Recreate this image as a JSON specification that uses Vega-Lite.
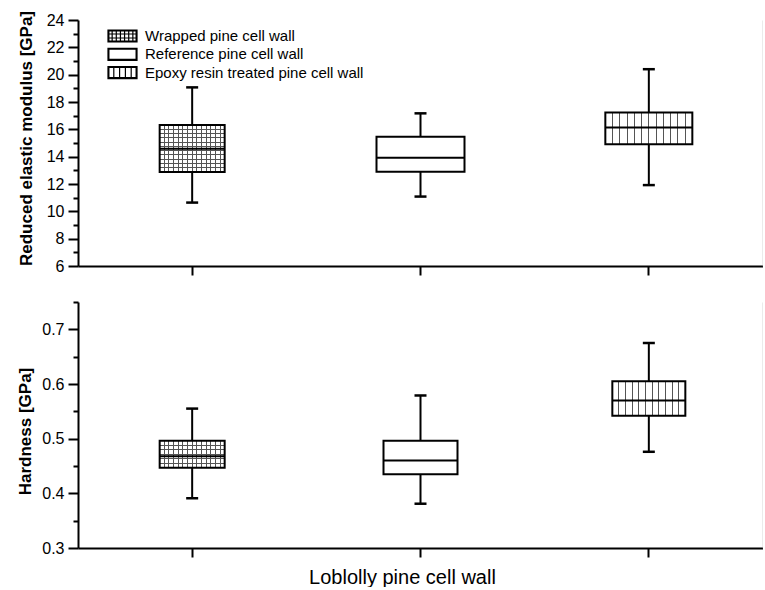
{
  "$schema": "https://vega.github.io/schema/vega-lite/v6.json",
  "background": "white",
  "padding": {"left": 16, "top": 10, "right": 0, "bottom": 0},
  "config": {
    "font": "Liberation Sans",
    "view": {"stroke": null},
    "axis": {"grid": false, "domainColor": "black", "tickColor": "black", "labelColor": "black", "titleColor": "black", "domainWidth": 2, "tickWidth": 2, "labelFlush": false, "labelOverlap": false, "labelBound": false}
  },
  "data": {"values": [
    {"group": "Wrapped pine cell wall", "E_low": 10.64, "E_q1": 12.87, "E_med": 14.58, "E_q3": 16.32, "E_high": 19.07, "H_low": 0.391, "H_q1": 0.447, "H_med": 0.468, "H_q3": 0.496, "H_high": 0.555},
    {"group": "Reference pine cell wall", "E_low": 11.08, "E_q1": 12.9, "E_med": 13.92, "E_q3": 15.46, "E_high": 17.17, "H_low": 0.381, "H_q1": 0.435, "H_med": 0.46, "H_q3": 0.496, "H_high": 0.579},
    {"group": "Epoxy resin treated pine cell wall", "E_low": 11.92, "E_q1": 14.9, "E_med": 16.14, "E_q3": 17.24, "E_high": 20.4, "H_low": 0.476, "H_q1": 0.542, "H_med": 0.57, "H_q3": 0.605, "H_high": 0.675}
  ]},
  "spacing": 18,
  "resolve": {"scale": {"fill": "independent"}},
  "vconcat": [
    {
      "width": 685,
      "height": 246,
      "encoding": {
        "x": {"field": "group", "type": "nominal", "scale": {"domain": ["Wrapped pine cell wall", "Reference pine cell wall", "Epoxy resin treated pine cell wall"], "paddingInner": 0, "paddingOuter": 0},
          "axis": {"labels": false, "title": null, "tickSize": 9, "tickWidth": 2, "domainWidth": 2}}
      },
      "resolve": {"axis": {"y": "independent"}},
      "layer": [
        {
          "mark": {"type": "rule", "color": "black", "strokeWidth": 2},
          "encoding": {
            "y": {"field": "E_low", "type": "quantitative", "scale": {"domain": [6, 24], "nice": false, "zero": false},
              "axis": {"orient": "left", "values": [6,7,8,9,10,11,12,13,14,15,16,17,18,19,20,21,22,23,24],
                "labelExpr": "datum.value % 2 === 0 ? datum.label : ''",
                "tickSize": {"condition": {"test": "datum.value % 2 === 0", "value": 10}, "value": 5},
                "labelFontSize": 16, "labelPadding": 4,
                "title": "Reduced elastic modulus [GPa]", "titleFontSize": 17, "titleFontWeight": "bold", "titlePadding": 11, "titleY": 118}},
            "y2": {"field": "E_high"}
          }
        },
        {
          "mark": {"type": "bar", "stroke": null, "width": {"expr": "datum.group === 'Wrapped pine cell wall' ? 65 : datum.group === 'Reference pine cell wall' ? 88 : 87"}},
          "encoding": {
            "y": {"field": "E_q1", "type": "quantitative", "axis": null},
            "y2": {"field": "E_q3"},
            "fill": {"field": "group", "type": "nominal", "scale": {"domain": ["Wrapped pine cell wall", "Reference pine cell wall", "Epoxy resin treated pine cell wall"], "range": ["white", "white", "white"]},
              "legend": {"orient": "none", "legendX": 37, "legendY": 8.5, "title": null, "padding": 0, "symbolSize": 144, "rowPadding": 1.3,
                "symbolType": "M-2.417,-1H2.417V1H-2.417ZM-2.27,-0.85H2.27V0.85H-2.27Z",
                "symbolStrokeColor": "black", "symbolStrokeWidth": 1.2, "symbolFillColor": "white",
                "labelFontSize": 15, "labelColor": "black", "labelLimit": 0, "labelOffset": 15,
                "encode": {"symbols": {"update": {
                  "shape": {"signal": "datum.value === 'Wrapped pine cell wall' ? 'M-2.417,-1H2.417V1H-2.417ZM-2.27,-0.85H2.27V0.85H-2.27ZM-1.726,-1V1M-1.036,-1V1M-0.345,-1V1M0.345,-1V1M1.036,-1V1M1.726,-1V1M-2.417,-0.333H2.417M-2.417,0.333H2.417' : datum.value === 'Reference pine cell wall' ? 'M-2.417,-1H2.417V1H-2.417ZM-2.27,-0.85H2.27V0.85H-2.27Z' : 'M-2.417,-1H2.417V1H-2.417ZM-2.27,-0.85H2.27V0.85H-2.27ZM-1.45,-1V1M-0.483,-1V1M0.483,-1V1M1.45,-1V1'"}
                }}}}}
          }
        },
        {
          "transform": [{"filter": "datum.group === 'Wrapped pine cell wall'"}],
          "mark": {"type": "bar", "stroke": null, "width": 65, "fill": {"gradient": "linear", "x1": 0, "y1": 0, "x2": 1, "y2": 0, "stops": [
            {"offset": 0, "color": "white"},
            {"offset": 0.0634, "color": "white"}, {"offset": 0.0634, "color": "#555"}, {"offset": 0.0794, "color": "#555"}, {"offset": 0.0794, "color": "white"},
            {"offset": 0.1349, "color": "white"}, {"offset": 0.1349, "color": "#555"}, {"offset": 0.1509, "color": "#555"}, {"offset": 0.1509, "color": "white"},
            {"offset": 0.2063, "color": "white"}, {"offset": 0.2063, "color": "#555"}, {"offset": 0.2223, "color": "#555"}, {"offset": 0.2223, "color": "white"},
            {"offset": 0.2777, "color": "white"}, {"offset": 0.2777, "color": "#555"}, {"offset": 0.2937, "color": "#555"}, {"offset": 0.2937, "color": "white"},
            {"offset": 0.3491, "color": "white"}, {"offset": 0.3491, "color": "#555"}, {"offset": 0.3651, "color": "#555"}, {"offset": 0.3651, "color": "white"},
            {"offset": 0.4206, "color": "white"}, {"offset": 0.4206, "color": "#555"}, {"offset": 0.4366, "color": "#555"}, {"offset": 0.4366, "color": "white"},
            {"offset": 0.492, "color": "white"}, {"offset": 0.492, "color": "#555"}, {"offset": 0.508, "color": "#555"}, {"offset": 0.508, "color": "white"},
            {"offset": 0.5634, "color": "white"}, {"offset": 0.5634, "color": "#555"}, {"offset": 0.5794, "color": "#555"}, {"offset": 0.5794, "color": "white"},
            {"offset": 0.6349, "color": "white"}, {"offset": 0.6349, "color": "#555"}, {"offset": 0.6509, "color": "#555"}, {"offset": 0.6509, "color": "white"},
            {"offset": 0.7063, "color": "white"}, {"offset": 0.7063, "color": "#555"}, {"offset": 0.7223, "color": "#555"}, {"offset": 0.7223, "color": "white"},
            {"offset": 0.7777, "color": "white"}, {"offset": 0.7777, "color": "#555"}, {"offset": 0.7937, "color": "#555"}, {"offset": 0.7937, "color": "white"},
            {"offset": 0.8491, "color": "white"}, {"offset": 0.8491, "color": "#555"}, {"offset": 0.8651, "color": "#555"}, {"offset": 0.8651, "color": "white"},
            {"offset": 0.9206, "color": "white"}, {"offset": 0.9206, "color": "#555"}, {"offset": 0.9366, "color": "#555"}, {"offset": 0.9366, "color": "white"},
            {"offset": 1, "color": "white"}]}},
          "encoding": {
            "y": {"field": "E_q1", "type": "quantitative", "axis": null},
            "y2": {"field": "E_q3"}
          }
        },
        {
          "transform": [{"filter": "datum.group === 'Wrapped pine cell wall'"}],
          "mark": {"type": "bar", "stroke": null, "width": 65, "fill": {"gradient": "linear", "x1": 0, "y1": 0, "x2": 0, "y2": 1, "stops": [
            {"offset": 0, "color": "rgba(255,255,255,0)"},
            {"offset": 0.0799, "color": "rgba(255,255,255,0)"}, {"offset": 0.0799, "color": "#555"}, {"offset": 0.1019, "color": "#555"}, {"offset": 0.1019, "color": "rgba(255,255,255,0)"},
            {"offset": 0.1708, "color": "rgba(255,255,255,0)"}, {"offset": 0.1708, "color": "#555"}, {"offset": 0.1928, "color": "#555"}, {"offset": 0.1928, "color": "rgba(255,255,255,0)"},
            {"offset": 0.2617, "color": "rgba(255,255,255,0)"}, {"offset": 0.2617, "color": "#555"}, {"offset": 0.2837, "color": "#555"}, {"offset": 0.2837, "color": "rgba(255,255,255,0)"},
            {"offset": 0.3526, "color": "rgba(255,255,255,0)"}, {"offset": 0.3526, "color": "#555"}, {"offset": 0.3746, "color": "#555"}, {"offset": 0.3746, "color": "rgba(255,255,255,0)"},
            {"offset": 0.4435, "color": "rgba(255,255,255,0)"}, {"offset": 0.4435, "color": "#555"}, {"offset": 0.4655, "color": "#555"}, {"offset": 0.4655, "color": "rgba(255,255,255,0)"},
            {"offset": 0.5345, "color": "rgba(255,255,255,0)"}, {"offset": 0.5345, "color": "#555"}, {"offset": 0.5565, "color": "#555"}, {"offset": 0.5565, "color": "rgba(255,255,255,0)"},
            {"offset": 0.6254, "color": "rgba(255,255,255,0)"}, {"offset": 0.6254, "color": "#555"}, {"offset": 0.6474, "color": "#555"}, {"offset": 0.6474, "color": "rgba(255,255,255,0)"},
            {"offset": 0.7163, "color": "rgba(255,255,255,0)"}, {"offset": 0.7163, "color": "#555"}, {"offset": 0.7383, "color": "#555"}, {"offset": 0.7383, "color": "rgba(255,255,255,0)"},
            {"offset": 0.8072, "color": "rgba(255,255,255,0)"}, {"offset": 0.8072, "color": "#555"}, {"offset": 0.8292, "color": "#555"}, {"offset": 0.8292, "color": "rgba(255,255,255,0)"},
            {"offset": 0.8981, "color": "rgba(255,255,255,0)"}, {"offset": 0.8981, "color": "#555"}, {"offset": 0.9201, "color": "#555"}, {"offset": 0.9201, "color": "rgba(255,255,255,0)"},
            {"offset": 1, "color": "rgba(255,255,255,0)"}]}},
          "encoding": {
            "y": {"field": "E_q1", "type": "quantitative", "axis": null},
            "y2": {"field": "E_q3"}
          }
        },
        {
          "transform": [{"filter": "datum.group === 'Epoxy resin treated pine cell wall'"}],
          "mark": {"type": "bar", "stroke": null, "width": 87, "fill": {"gradient": "linear", "x1": 0, "y1": 0, "x2": 1, "y2": 0, "stops": [
            {"offset": 0, "color": "white"},
            {"offset": 0.0773, "color": "white"}, {"offset": 0.0773, "color": "#555"}, {"offset": 0.0893, "color": "#555"}, {"offset": 0.0893, "color": "white"},
            {"offset": 0.1607, "color": "white"}, {"offset": 0.1607, "color": "#555"}, {"offset": 0.1727, "color": "#555"}, {"offset": 0.1727, "color": "white"},
            {"offset": 0.244, "color": "white"}, {"offset": 0.244, "color": "#555"}, {"offset": 0.256, "color": "#555"}, {"offset": 0.256, "color": "white"},
            {"offset": 0.3273, "color": "white"}, {"offset": 0.3273, "color": "#555"}, {"offset": 0.3393, "color": "#555"}, {"offset": 0.3393, "color": "white"},
            {"offset": 0.4107, "color": "white"}, {"offset": 0.4107, "color": "#555"}, {"offset": 0.4227, "color": "#555"}, {"offset": 0.4227, "color": "white"},
            {"offset": 0.494, "color": "white"}, {"offset": 0.494, "color": "#555"}, {"offset": 0.506, "color": "#555"}, {"offset": 0.506, "color": "white"},
            {"offset": 0.5773, "color": "white"}, {"offset": 0.5773, "color": "#555"}, {"offset": 0.5893, "color": "#555"}, {"offset": 0.5893, "color": "white"},
            {"offset": 0.6607, "color": "white"}, {"offset": 0.6607, "color": "#555"}, {"offset": 0.6727, "color": "#555"}, {"offset": 0.6727, "color": "white"},
            {"offset": 0.744, "color": "white"}, {"offset": 0.744, "color": "#555"}, {"offset": 0.756, "color": "#555"}, {"offset": 0.756, "color": "white"},
            {"offset": 0.8273, "color": "white"}, {"offset": 0.8273, "color": "#555"}, {"offset": 0.8393, "color": "#555"}, {"offset": 0.8393, "color": "white"},
            {"offset": 0.9107, "color": "white"}, {"offset": 0.9107, "color": "#555"}, {"offset": 0.9227, "color": "#555"}, {"offset": 0.9227, "color": "white"},
            {"offset": 1, "color": "white"}]}},
          "encoding": {
            "y": {"field": "E_q1", "type": "quantitative", "axis": null},
            "y2": {"field": "E_q3"}
          }
        },
        {
          "mark": {"type": "bar", "fill": "transparent", "stroke": "black", "strokeWidth": 2, "width": {"expr": "datum.group === 'Wrapped pine cell wall' ? 65 : datum.group === 'Reference pine cell wall' ? 88 : 87"}},
          "encoding": {
            "y": {"field": "E_q1", "type": "quantitative", "axis": {"orient": "right", "labels": false, "ticks": false, "title": null, "domainColor": "#b0b0b0", "domainWidth": 1.5}},
            "y2": {"field": "E_q3"}
          }
        },
        {
          "mark": {"type": "tick", "color": "black", "opacity": 1, "thickness": 2, "size": {"expr": "datum.group === 'Wrapped pine cell wall' ? 65 : datum.group === 'Reference pine cell wall' ? 88 : 87"}},
          "encoding": {
            "y": {"field": "E_med", "type": "quantitative", "axis": null}
          }
        },
        {
          "mark": {"type": "tick", "color": "black", "opacity": 1, "thickness": 2.5, "size": 12},
          "encoding": {"y": {"field": "E_low", "type": "quantitative", "axis": null}}
        },
        {
          "mark": {"type": "tick", "color": "black", "opacity": 1, "thickness": 2.5, "size": 12},
          "encoding": {"y": {"field": "E_high", "type": "quantitative", "axis": null}}
        }
      ]
    },
    {
      "width": 685,
      "height": 246,
      "encoding": {
        "x": {"field": "group", "type": "nominal", "scale": {"domain": ["Wrapped pine cell wall", "Reference pine cell wall", "Epoxy resin treated pine cell wall"], "paddingInner": 0, "paddingOuter": 0},
          "axis": {"labels": false, "tickSize": 9, "tickWidth": 2, "domainWidth": 2, "title": "Loblolly pine cell wall", "titleFontSize": 20, "titleFontWeight": "normal", "titlePadding": 9, "titleX": 324}}
      },
      "resolve": {"axis": {"y": "independent"}},
      "layer": [
        {
          "mark": {"type": "rule", "color": "black", "strokeWidth": 2},
          "encoding": {
            "y": {"field": "H_low", "type": "quantitative", "scale": {"domain": [0.3, 0.75], "nice": false, "zero": false},
              "axis": {"orient": "left", "values": [0.3,0.35,0.4,0.45,0.5,0.55,0.6,0.65,0.7,0.75],
                "labelExpr": "round(datum.value*100) % 10 === 0 ? format(datum.value, '.1f') : ''",
                "tickSize": {"condition": {"test": "round(datum.value*100) % 10 === 0", "value": 10}, "value": 5},
                "labelFontSize": 16, "labelPadding": 4,
                "title": "Hardness [GPa]", "titleFontSize": 17, "titleFontWeight": "bold", "titlePadding": 7, "titleY": 129}},
            "y2": {"field": "H_high"}
          }
        },
        {
          "mark": {"type": "bar", "stroke": null, "fill": "white", "width": {"expr": "datum.group === 'Wrapped pine cell wall' ? 65 : datum.group === 'Reference pine cell wall' ? 74 : 73"}},
          "encoding": {
            "y": {"field": "H_q1", "type": "quantitative", "axis": null},
            "y2": {"field": "H_q3"}
          }
        },
        {
          "transform": [{"filter": "datum.group === 'Wrapped pine cell wall'"}],
          "mark": {"type": "bar", "stroke": null, "width": 65, "fill": {"gradient": "linear", "x1": 0, "y1": 0, "x2": 1, "y2": 0, "stops": [
            {"offset": 0, "color": "white"},
            {"offset": 0.0634, "color": "white"}, {"offset": 0.0634, "color": "#555"}, {"offset": 0.0794, "color": "#555"}, {"offset": 0.0794, "color": "white"},
            {"offset": 0.1349, "color": "white"}, {"offset": 0.1349, "color": "#555"}, {"offset": 0.1509, "color": "#555"}, {"offset": 0.1509, "color": "white"},
            {"offset": 0.2063, "color": "white"}, {"offset": 0.2063, "color": "#555"}, {"offset": 0.2223, "color": "#555"}, {"offset": 0.2223, "color": "white"},
            {"offset": 0.2777, "color": "white"}, {"offset": 0.2777, "color": "#555"}, {"offset": 0.2937, "color": "#555"}, {"offset": 0.2937, "color": "white"},
            {"offset": 0.3491, "color": "white"}, {"offset": 0.3491, "color": "#555"}, {"offset": 0.3651, "color": "#555"}, {"offset": 0.3651, "color": "white"},
            {"offset": 0.4206, "color": "white"}, {"offset": 0.4206, "color": "#555"}, {"offset": 0.4366, "color": "#555"}, {"offset": 0.4366, "color": "white"},
            {"offset": 0.492, "color": "white"}, {"offset": 0.492, "color": "#555"}, {"offset": 0.508, "color": "#555"}, {"offset": 0.508, "color": "white"},
            {"offset": 0.5634, "color": "white"}, {"offset": 0.5634, "color": "#555"}, {"offset": 0.5794, "color": "#555"}, {"offset": 0.5794, "color": "white"},
            {"offset": 0.6349, "color": "white"}, {"offset": 0.6349, "color": "#555"}, {"offset": 0.6509, "color": "#555"}, {"offset": 0.6509, "color": "white"},
            {"offset": 0.7063, "color": "white"}, {"offset": 0.7063, "color": "#555"}, {"offset": 0.7223, "color": "#555"}, {"offset": 0.7223, "color": "white"},
            {"offset": 0.7777, "color": "white"}, {"offset": 0.7777, "color": "#555"}, {"offset": 0.7937, "color": "#555"}, {"offset": 0.7937, "color": "white"},
            {"offset": 0.8491, "color": "white"}, {"offset": 0.8491, "color": "#555"}, {"offset": 0.8651, "color": "#555"}, {"offset": 0.8651, "color": "white"},
            {"offset": 0.9206, "color": "white"}, {"offset": 0.9206, "color": "#555"}, {"offset": 0.9366, "color": "#555"}, {"offset": 0.9366, "color": "white"},
            {"offset": 1, "color": "white"}]}},
          "encoding": {
            "y": {"field": "H_q1", "type": "quantitative", "axis": null},
            "y2": {"field": "H_q3"}
          }
        },
        {
          "transform": [{"filter": "datum.group === 'Wrapped pine cell wall'"}],
          "mark": {"type": "bar", "stroke": null, "width": 65, "fill": {"gradient": "linear", "x1": 0, "y1": 0, "x2": 0, "y2": 1, "stops": [
            {"offset": 0, "color": "rgba(255,255,255,0)"},
            {"offset": 0.1477, "color": "rgba(255,255,255,0)"}, {"offset": 0.1477, "color": "#555"}, {"offset": 0.1857, "color": "#555"}, {"offset": 0.1857, "color": "rgba(255,255,255,0)"},
            {"offset": 0.3143, "color": "rgba(255,255,255,0)"}, {"offset": 0.3143, "color": "#555"}, {"offset": 0.3523, "color": "#555"}, {"offset": 0.3523, "color": "rgba(255,255,255,0)"},
            {"offset": 0.481, "color": "rgba(255,255,255,0)"}, {"offset": 0.481, "color": "#555"}, {"offset": 0.519, "color": "#555"}, {"offset": 0.519, "color": "rgba(255,255,255,0)"},
            {"offset": 0.6477, "color": "rgba(255,255,255,0)"}, {"offset": 0.6477, "color": "#555"}, {"offset": 0.6857, "color": "#555"}, {"offset": 0.6857, "color": "rgba(255,255,255,0)"},
            {"offset": 0.8143, "color": "rgba(255,255,255,0)"}, {"offset": 0.8143, "color": "#555"}, {"offset": 0.8523, "color": "#555"}, {"offset": 0.8523, "color": "rgba(255,255,255,0)"},
            {"offset": 1, "color": "rgba(255,255,255,0)"}]}},
          "encoding": {
            "y": {"field": "H_q1", "type": "quantitative", "axis": null},
            "y2": {"field": "H_q3"}
          }
        },
        {
          "transform": [{"filter": "datum.group === 'Epoxy resin treated pine cell wall'"}],
          "mark": {"type": "bar", "stroke": null, "width": 73, "fill": {"gradient": "linear", "x1": 0, "y1": 0, "x2": 1, "y2": 0, "stops": [
            {"offset": 0, "color": "white"},
            {"offset": 0.0839, "color": "white"}, {"offset": 0.0839, "color": "#555"}, {"offset": 0.0979, "color": "#555"}, {"offset": 0.0979, "color": "white"},
            {"offset": 0.1748, "color": "white"}, {"offset": 0.1748, "color": "#555"}, {"offset": 0.1888, "color": "#555"}, {"offset": 0.1888, "color": "white"},
            {"offset": 0.2657, "color": "white"}, {"offset": 0.2657, "color": "#555"}, {"offset": 0.2797, "color": "#555"}, {"offset": 0.2797, "color": "white"},
            {"offset": 0.3566, "color": "white"}, {"offset": 0.3566, "color": "#555"}, {"offset": 0.3706, "color": "#555"}, {"offset": 0.3706, "color": "white"},
            {"offset": 0.4475, "color": "white"}, {"offset": 0.4475, "color": "#555"}, {"offset": 0.4615, "color": "#555"}, {"offset": 0.4615, "color": "white"},
            {"offset": 0.5385, "color": "white"}, {"offset": 0.5385, "color": "#555"}, {"offset": 0.5525, "color": "#555"}, {"offset": 0.5525, "color": "white"},
            {"offset": 0.6294, "color": "white"}, {"offset": 0.6294, "color": "#555"}, {"offset": 0.6434, "color": "#555"}, {"offset": 0.6434, "color": "white"},
            {"offset": 0.7203, "color": "white"}, {"offset": 0.7203, "color": "#555"}, {"offset": 0.7343, "color": "#555"}, {"offset": 0.7343, "color": "white"},
            {"offset": 0.8112, "color": "white"}, {"offset": 0.8112, "color": "#555"}, {"offset": 0.8252, "color": "#555"}, {"offset": 0.8252, "color": "white"},
            {"offset": 0.9021, "color": "white"}, {"offset": 0.9021, "color": "#555"}, {"offset": 0.9161, "color": "#555"}, {"offset": 0.9161, "color": "white"},
            {"offset": 1, "color": "white"}]}},
          "encoding": {
            "y": {"field": "H_q1", "type": "quantitative", "axis": null},
            "y2": {"field": "H_q3"}
          }
        },
        {
          "mark": {"type": "bar", "fill": "transparent", "stroke": "black", "strokeWidth": 2, "width": {"expr": "datum.group === 'Wrapped pine cell wall' ? 65 : datum.group === 'Reference pine cell wall' ? 74 : 73"}},
          "encoding": {
            "y": {"field": "H_q1", "type": "quantitative", "axis": {"orient": "right", "labels": false, "ticks": false, "title": null, "domainColor": "#b0b0b0", "domainWidth": 1.5}},
            "y2": {"field": "H_q3"}
          }
        },
        {
          "mark": {"type": "tick", "color": "black", "opacity": 1, "thickness": 2, "size": {"expr": "datum.group === 'Wrapped pine cell wall' ? 65 : datum.group === 'Reference pine cell wall' ? 74 : 73"}},
          "encoding": {
            "y": {"field": "H_med", "type": "quantitative", "axis": null}
          }
        },
        {
          "mark": {"type": "tick", "color": "black", "opacity": 1, "thickness": 2.5, "size": 12},
          "encoding": {"y": {"field": "H_low", "type": "quantitative", "axis": null}}
        },
        {
          "mark": {"type": "tick", "color": "black", "opacity": 1, "thickness": 2.5, "size": 12},
          "encoding": {"y": {"field": "H_high", "type": "quantitative", "axis": null}}
        }
      ]
    }
  ]
}
